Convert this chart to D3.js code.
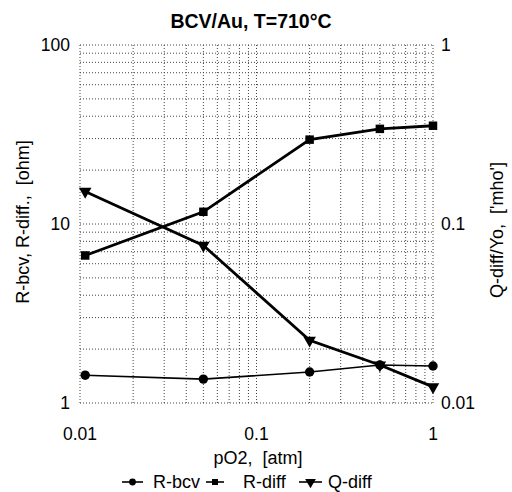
<!DOCTYPE html>
<html><head><meta charset="utf-8">
<script src="https://cdn.jsdelivr.net/npm/d3@7"></script>
<style>body{margin:0;background:#fff}svg{display:block}text{font-family:Arial,"Liberation Sans",sans-serif;fill:#000;white-space:pre}</style>
</head><body><svg id="c" width="512" height="492"></svg>
<script>
const pO2 = [0.0107, 0.05, 0.2, 0.5, 1];
const rBcv = [1.43, 1.36, 1.49, 1.63, 1.61];
const rDiff = [6.67, 11.7, 29.6, 34.0, 35.4];
const qDiff = [0.152, 0.0759, 0.0224, 0.0163, 0.0123];
const xTicks = [0.01, 0.1, 1];
const yLeftTicks = [1, 10, 100];
const yRightTicks = [0.01, 0.1, 1];
const seriesNames = ["R-bcv", "R-diff", "Q-diff"];

const svg = d3.select("#c");
const L = 80, R = 433, T = 45, B = 403;
const x = d3.scaleLog().domain([0.01, 1]).range([L, R]);
const yl = d3.scaleLog().domain([1, 100]).range([B, T]);
const yr = d3.scaleLog().domain([0.01, 1]).range([B, T]);

// grid
const g = svg.append("g");
const xMinor = [];
for (let d = 0.01; d < 1; d *= 10) for (let k = 1; k <= 10; k++) xMinor.push(+(d * k).toPrecision(3));
const yMinor = [];
for (let d = 1; d < 100; d *= 10) for (let k = 1; k <= 10; k++) yMinor.push(+(d * k).toPrecision(3));
g.selectAll("line.vx").data([...new Set(xMinor)]).join("line")
  .attr("x1", d => x(d)).attr("x2", d => x(d)).attr("y1", T).attr("y2", B)
  .attr("stroke", "#444").attr("stroke-width", 1).attr("stroke-dasharray", "1,2");
g.selectAll("line.hy").data([...new Set(yMinor)]).join("line")
  .attr("y1", d => yl(d)).attr("y2", d => yl(d)).attr("x1", L).attr("x2", R)
  .attr("stroke", "#444").attr("stroke-width", 1).attr("stroke-dasharray", "1,2");

// tick labels
const fs = 17.5;
svg.append("g").selectAll("text").data(yLeftTicks).join("text")
  .attr("x", 70).attr("y", d => yl(d)).attr("dy", "0.36em").attr("text-anchor", "end")
  .attr("font-size", fs).text(d => d3.format("~g")(d));
svg.append("g").selectAll("text").data(yRightTicks).join("text")
  .attr("x", R + 8).attr("y", d => yr(d)).attr("dy", "0.36em").attr("text-anchor", "start")
  .attr("font-size", fs).text(d => d3.format("~g")(d));
svg.append("g").selectAll("text").data(xTicks).join("text")
  .attr("x", d => x(d)).attr("y", 434).attr("dy", "0.36em").attr("text-anchor", "middle")
  .attr("font-size", fs).text(d => d3.format("~g")(d));

// titles
svg.append("text").attr("x", 251).attr("y", 28).attr("text-anchor", "middle")
  .attr("font-size", 19.5).attr("font-weight", "bold").text("BCV/Au, T=710°C");
svg.append("text").attr("x", 258).attr("y", 464).attr("text-anchor", "middle")
  .attr("font-size", 18).text("pO2,  [atm]");
svg.append("text").attr("transform", "translate(29,222) rotate(-90)").attr("text-anchor", "middle")
  .attr("font-size", 18).text("R-bcv, R-diff.,  [ohm]");
svg.append("text").attr("transform", "translate(503,230) rotate(-90)").attr("text-anchor", "middle")
  .attr("font-size", 18).text("Q-diff/Yo,  ['mho']");

// series
const line = (ys) => d3.line().x((d, i) => x(pO2[i])).y(d => ys(d));
const sym = {
  circle: d3.symbol().type(d3.symbolCircle).size(70),
  square: d3.symbol().type(d3.symbolSquare).size(72),
  tri: d3.symbol().type(d3.symbolTriangle).size(68)
};
function drawSeries(vals, ys, lw, kind) {
  svg.append("path").datum(vals).attr("d", line(ys)).attr("fill", "none").attr("stroke", "#000").attr("stroke-width", lw);
  svg.append("g").selectAll("path").data(vals).join("path")
    .attr("d", sym[kind]())
    .attr("transform", (d, i) => `translate(${x(pO2[i])},${ys(d)})` + (kind === "tri" ? " rotate(180)" : ""))
    .attr("fill", "#000");
}
drawSeries(rBcv, yl, 1.6, "circle");
drawSeries(rDiff, yl, 2.8, "square");
drawSeries(qDiff, yr, 2.8, "tri");

// legend
const leg = [
  {name: seriesNames[0], x1: 122, x2: 143, tx: 153, kind: "circle"},
  {name: seriesNames[1], x1: 206, x2: 224, tx: 243, kind: "square"},
  {name: seriesNames[2], x1: 299, x2: 322, tx: 328, kind: "tri"}
];
const ly = 482;
const lg = svg.append("g");
leg.forEach(o => {
  lg.append("line").attr("x1", o.x1).attr("x2", o.x2).attr("y1", ly).attr("y2", ly).attr("stroke", "#000").attr("stroke-width", 1.6);
  lg.append("path").attr("d", d3.symbol().type(o.kind === "circle" ? d3.symbolCircle : o.kind === "square" ? d3.symbolSquare : d3.symbolTriangle).size(o.kind === "tri" ? 50 : 36)())
    .attr("transform", `translate(${(o.x1 + o.x2) / 2},${ly})` + (o.kind === "tri" ? " rotate(180)" : "")).attr("fill", "#000");
  lg.append("text").attr("x", o.tx).attr("y", ly).attr("dy", "0.36em").attr("font-size", 18).text(o.name);
});
</script></body></html>
